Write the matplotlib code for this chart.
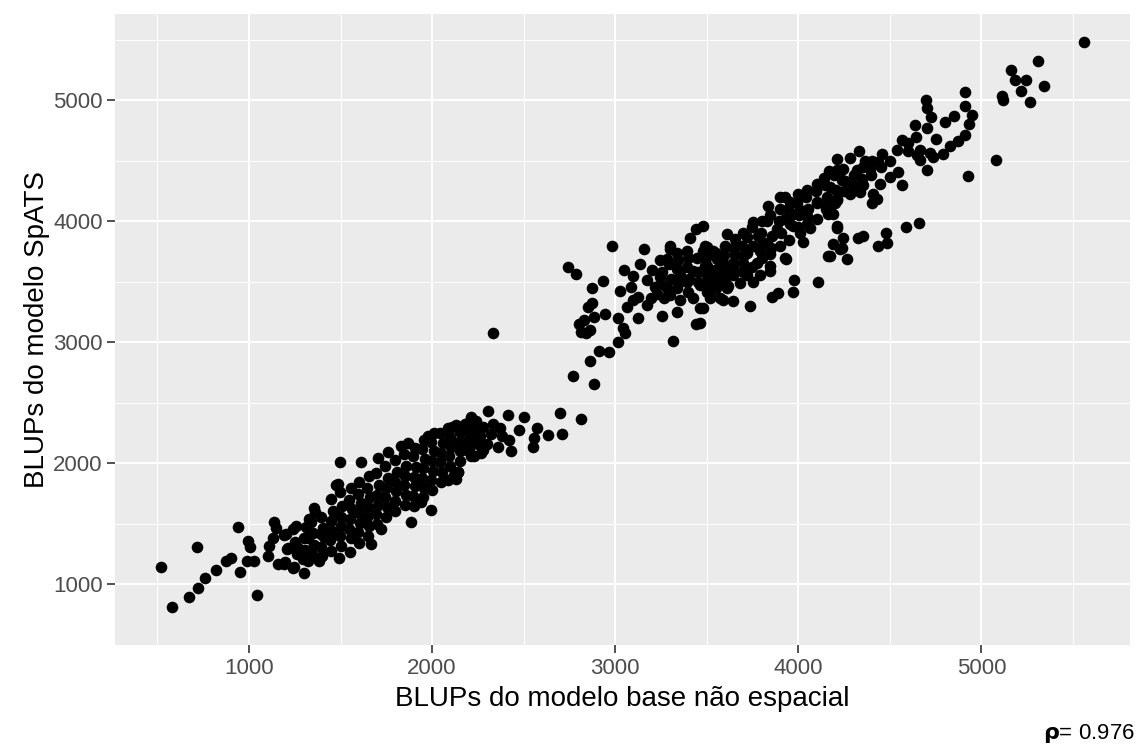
import matplotlib.pyplot as plt
import numpy as np

# BLUPs: modelo base nao espacial (x) vs modelo SpATS (y)
# grupo de menor producao
base_low = [520, 580, 673, 722, 760, 820, 875, 902, 716, 940, 951, 995, 1005, 989, 1027, 1044,
            1104, 1109, 1136, 1147, 1131, 1158, 1191, 1240, 1202, 1256, 1213, 1300, 1322, 1355,
            1327, 1382, 1267, 1322, 1393, 1447, 1475, 1464, 1491,
            2211, 2129, 2085, 2009, 1976, 1867, 1829, 1758, 1704, 1611, 1496, 1485, 1720, 1665,
            1884, 1993, 1938, 2118, 2085, 2140, 2227, 2173, 2249,
            2304, 2413, 2500, 2473, 2571, 2631, 2555, 2549, 2696, 2816, 2707, 2429, 2265, 2211,
            2129, 2140, 2180, 2240, 2280, 2330, 2370, 2200, 2260, 2320, 2380, 2170, 2230, 2300,
            2360, 2420, 2190, 2280,
            1195, 1210, 1190, 1245, 1260, 1250, 1240, 1295, 1305, 1300, 1310,
            1345, 1355, 1350, 1340, 1360, 1400, 1395, 1410, 1405, 1395,
            1450, 1445, 1455, 1450, 1460, 1500, 1495, 1505, 1500, 1510, 1495,
            1550, 1555, 1545, 1550, 1560, 1545, 1555, 1600, 1595, 1605, 1600, 1610, 1595, 1600,
            1650, 1655, 1645, 1650, 1660, 1645, 1655, 1700, 1695, 1705, 1700, 1710, 1695,
            1750, 1755, 1745, 1750, 1760, 1745, 1800, 1795, 1805, 1800, 1810, 1795,
            1850, 1855, 1845, 1850, 1860, 1845, 1900, 1895, 1905, 1900, 1910, 1895, 1905,
            1950, 1955, 1945, 1950, 1960, 1945, 1955, 2000, 1995, 2005, 2000, 2010, 1995,
            2050, 2055, 2045, 2050, 2060, 2045, 2100, 2095, 2105, 2100, 2110,
            2150, 2155, 2145, 2150, 2200, 2195, 2205, 2200, 2250, 2255, 2245]
spats_low = [1146, 813, 894, 967, 1057, 1122, 1195, 1220, 1309, 1472, 1106, 1358, 1309, 1195, 1195, 911,
             1236, 1317, 1520, 1463, 1382, 1171, 1171, 1138, 1415, 1480, 1301, 1098, 1195, 1634,
             1545, 1195, 1301, 1382, 1415, 1707, 1821, 1602, 1220,
             2382, 2317, 2293, 2252, 2228, 2171, 2146, 2098, 2049, 2008, 2016, 1829, 1455, 1333,
             1520, 1618, 1683, 1902, 1862, 1927, 2065, 2146, 2228,
             2431, 2398, 2382, 2276, 2293, 2236, 2211, 2138, 2415, 2366, 2244, 2106, 2089, 2065,
             1870, 1927, 2330, 2350, 2300, 2330, 2290, 2250, 2230, 2240, 2230, 2180, 2170, 2160,
             2140, 2190, 2110, 2110,
             1185, 1290, 1405, 1145, 1255, 1350, 1455, 1210, 1285, 1385, 1475,
             1250, 1330, 1425, 1515, 1600, 1235, 1310, 1390, 1470, 1560,
             1280, 1365, 1440, 1525, 1610, 1320, 1400, 1480, 1560, 1645, 1760,
             1270, 1380, 1460, 1540, 1620, 1700, 1800, 1340, 1430, 1510, 1590, 1670, 1750, 1850,
             1400, 1480, 1560, 1640, 1720, 1800, 1900, 1500, 1580, 1660, 1740, 1820, 1920,
             1560, 1640, 1720, 1800, 1880, 1980, 1610, 1690, 1770, 1850, 1930, 2030,
             1660, 1740, 1820, 1900, 1980, 2080, 1650, 1730, 1810, 1890, 1970, 2060, 2130,
             1720, 1800, 1880, 1960, 2040, 2120, 2190, 1780, 1860, 1940, 2020, 2100, 2180,
             1850, 1930, 2010, 2090, 2170, 2250, 1980, 2060, 2140, 2220, 2300,
             2020, 2100, 2180, 2260, 2100, 2180, 2260, 2340, 2160, 2240, 2310]

# grupo de maior producao
base_high = [2330, 2767, 2882, 2865, 2909, 2964, 3013, 2838, 2816, 2865, 2800, 2827, 2882, 2947,
             2849, 2871, 2871, 2936, 2745, 2784, 2980, 3155, 3138, 3024, 3084, 3067, 3013, 3045,
             3051, 3122, 3176, 3127, 3176, 3258, 3318, 3444, 3340, 3465, 3247, 3220, 3285, 3193,
             3264, 3356, 3427, 3520, 3591, 3285, 3340, 3395, 3482, 3558, 3591, 3340, 3427, 3504,
             3395, 3465, 3536, 3613, 3340, 3504, 3302, 3100, 3050, 3200, 3230, 3100, 3440,
             3836, 3902, 3755, 3831, 3929, 3885, 3613, 3656, 3722, 3782, 3831, 3482, 3493, 3536,
             3722, 3793, 3847, 3929, 3591, 3645, 3700, 3776, 3847, 3493, 3536, 3591, 3645, 3722,
             3793, 3847, 3504, 3575, 3618, 3684, 3755, 3520, 3575, 3645, 3482, 3738, 3465, 3858,
             3891, 3935, 3978, 3973, 4109, 4027, 3973, 4011, 4049, 4065, 3973, 4011, 4104, 4158,
             4213, 4164, 4213, 4245, 4327, 4191, 4240, 4164, 4267, 3929, 3956,
             4000, 4050, 4100, 4140, 4170,
             4704, 4567, 4644, 4753, 4540, 4600, 4665, 4720, 4791, 4829, 4873, 4911, 4665, 4704,
             4736, 4927, 4333, 4284, 4213, 4365, 4436, 4322, 4393, 4545, 4502, 4447, 4567, 4213,
             4240, 4175, 4284, 4355, 4338, 4409, 4431, 4404, 4213, 4175, 4191, 4213, 4660, 4589,
             4480, 4355, 4485, 4436, 4229, 4175,
             4700, 4705, 4725, 4800, 4850, 4640,
             5309, 5162, 5184, 5244, 5342, 5216, 5113, 5118, 5265, 4911, 4911, 4949, 4933, 5080,
             5560,
             3250, 3255, 3245, 3300, 3305, 3295, 3300, 3350, 3355, 3345, 3400, 3405, 3395, 3400,
             3410, 3450, 3455, 3445, 3500, 3505, 3495, 3500, 3550, 3555, 3545, 3550, 3600, 3605,
             3595, 3600, 3650, 3655, 3645, 3700, 3705, 3695, 3700, 3750, 3755, 3745, 3800, 3805,
             3795, 3800, 3850, 3855, 3845, 3900, 3905, 3895, 3900, 3950, 3955, 3945, 4000, 4005,
             3995, 4050, 4055, 4045, 4100, 4105, 4095, 4150, 4155, 4145, 4200, 4205, 4195, 4250,
             4255, 4245, 4300, 4305, 4350, 4355, 4400, 4405, 4450, 4455, 4500, 4600, 4650]
spats_high = [3080, 2724, 2659, 2846, 2927, 2919, 3000, 3081, 3089, 3106, 3154, 3187, 3211, 3236,
              3293, 3325, 3447, 3504, 3626, 3569, 3797, 3772, 3650, 3423, 3455, 3293, 3203, 3122,
              3081, 3203, 3512, 3374, 3309, 3220, 3008, 3154, 3252, 3285, 3537, 3455, 3447, 3366,
              3366, 3350, 3366, 3366, 3350, 3691, 3740, 3756, 3756, 3691, 3634, 3610, 3593, 3553,
              3496, 3472, 3472, 3447, 3447, 3634, 3772, 3550, 3600, 3600, 3400, 3350, 3940,
              4130, 4203, 3992, 4000, 4016, 3935, 3894, 3854, 3870, 3878, 3821, 3959, 3797, 3756,
              3740, 3756, 3732, 3699, 3658, 3658, 3658, 3658, 3634, 3634, 3577, 3569, 3553, 3553,
              3553, 3593, 3488, 3488, 3463, 3488, 3496, 3407, 3366, 3341, 3285, 3301, 3163, 3374,
              3407, 3691, 3512, 3415, 3496, 3829, 4065, 4098, 4041, 3943, 3959, 3902, 4163, 4138,
              4179, 4057, 3943, 3862, 3862, 3813, 3780, 3715, 3691, 4203, 4163,
              4230, 4260, 4310, 4360, 4420,
              4772, 4675, 4699, 4683, 4593, 4585, 4593, 4569, 4553, 4626, 4667, 4716, 4504, 4423,
              4528, 4374, 4585, 4520, 4512, 4496, 4488, 4423, 4431, 4406, 4366, 4309, 4301, 4423,
              4341, 4285, 4228, 4301, 4244, 4228, 4187, 4154, 4187, 4122, 4065, 3959, 3984, 3951,
              3902, 3878, 3821, 3797, 3772, 3715,
              5000, 4940, 4860, 4820, 4870, 4800,
              5325, 5252, 5171, 5171, 5122, 5081, 5033, 5000, 4984, 5065, 4951, 4878, 4805, 4504,
              5480,
              3480, 3580, 3680, 3390, 3520, 3650, 3800, 3500, 3560, 3680, 3420, 3520, 3620, 3700,
              3860, 3500, 3580, 3700, 3420, 3560, 3700, 3790, 3450, 3520, 3600, 3740, 3500, 3620,
              3720, 3800, 3600, 3720, 3780, 3580, 3720, 3800, 3900, 3620, 3800, 3950, 3700, 3820,
              3900, 4000, 3780, 3880, 4050, 3800, 3900, 4000, 4100, 3850, 3980, 4100, 3950, 4050,
              4150, 3980, 4100, 4200, 4020, 4150, 4250, 4100, 4200, 4300, 4150, 4260, 4380, 4250,
              4330, 4430, 4300, 4380, 4350, 4450, 4380, 4500, 4450, 4560, 4500, 4650, 4550]

rho = 0.976

x = np.array(base_low + base_high)
y = np.array(spats_low + spats_high)

plt.rcParams['font.family'] = ['Liberation Sans', 'DejaVu Sans']

fig = plt.figure(figsize=(11.39, 7.49), dpi=100)
ax = fig.add_axes([115 / 1139, 1 - 645 / 749, 1015 / 1139, 631 / 749])
ax.set_facecolor('#EBEBEB')
ax.scatter(x, y, s=70, c='black', linewidths=0, zorder=3)
ax.margins(0.05)

ax.set_xticks([1000, 2000, 3000, 4000, 5000])
ax.set_yticks([1000, 2000, 3000, 4000, 5000])
ax.set_xticks(np.arange(500, 6000, 1000), minor=True)
ax.set_yticks(np.arange(500, 6000, 1000), minor=True)
ax.grid(which='major', color='white', linewidth=1.5, zorder=0)
ax.grid(which='minor', color='white', linewidth=0.75, zorder=0)
ax.set_axisbelow(True)
for sp in ax.spines.values():
    sp.set_visible(False)

ax.tick_params(which='major', length=6, width=1.2, color='#333333',
               labelsize=16, labelcolor='#4D4D4D', pad=3)
ax.tick_params(which='minor', length=0)

ax.set_xlabel('BLUPs do modelo base não espacial', fontsize=20)
ax.set_ylabel('BLUPs do modelo SpATS', fontsize=20)
ax.xaxis.set_label_coords(0.5, -0.065)
ax.yaxis.set_label_coords(-0.064, 0.5)

fig.text(1135 / 1139, 4 / 749, r'$\mathbf{\rho}$' + '= %.3f' % rho, ha='right', va='bottom',
         fontsize=16)

fig.savefig('out.png', dpi=100)
